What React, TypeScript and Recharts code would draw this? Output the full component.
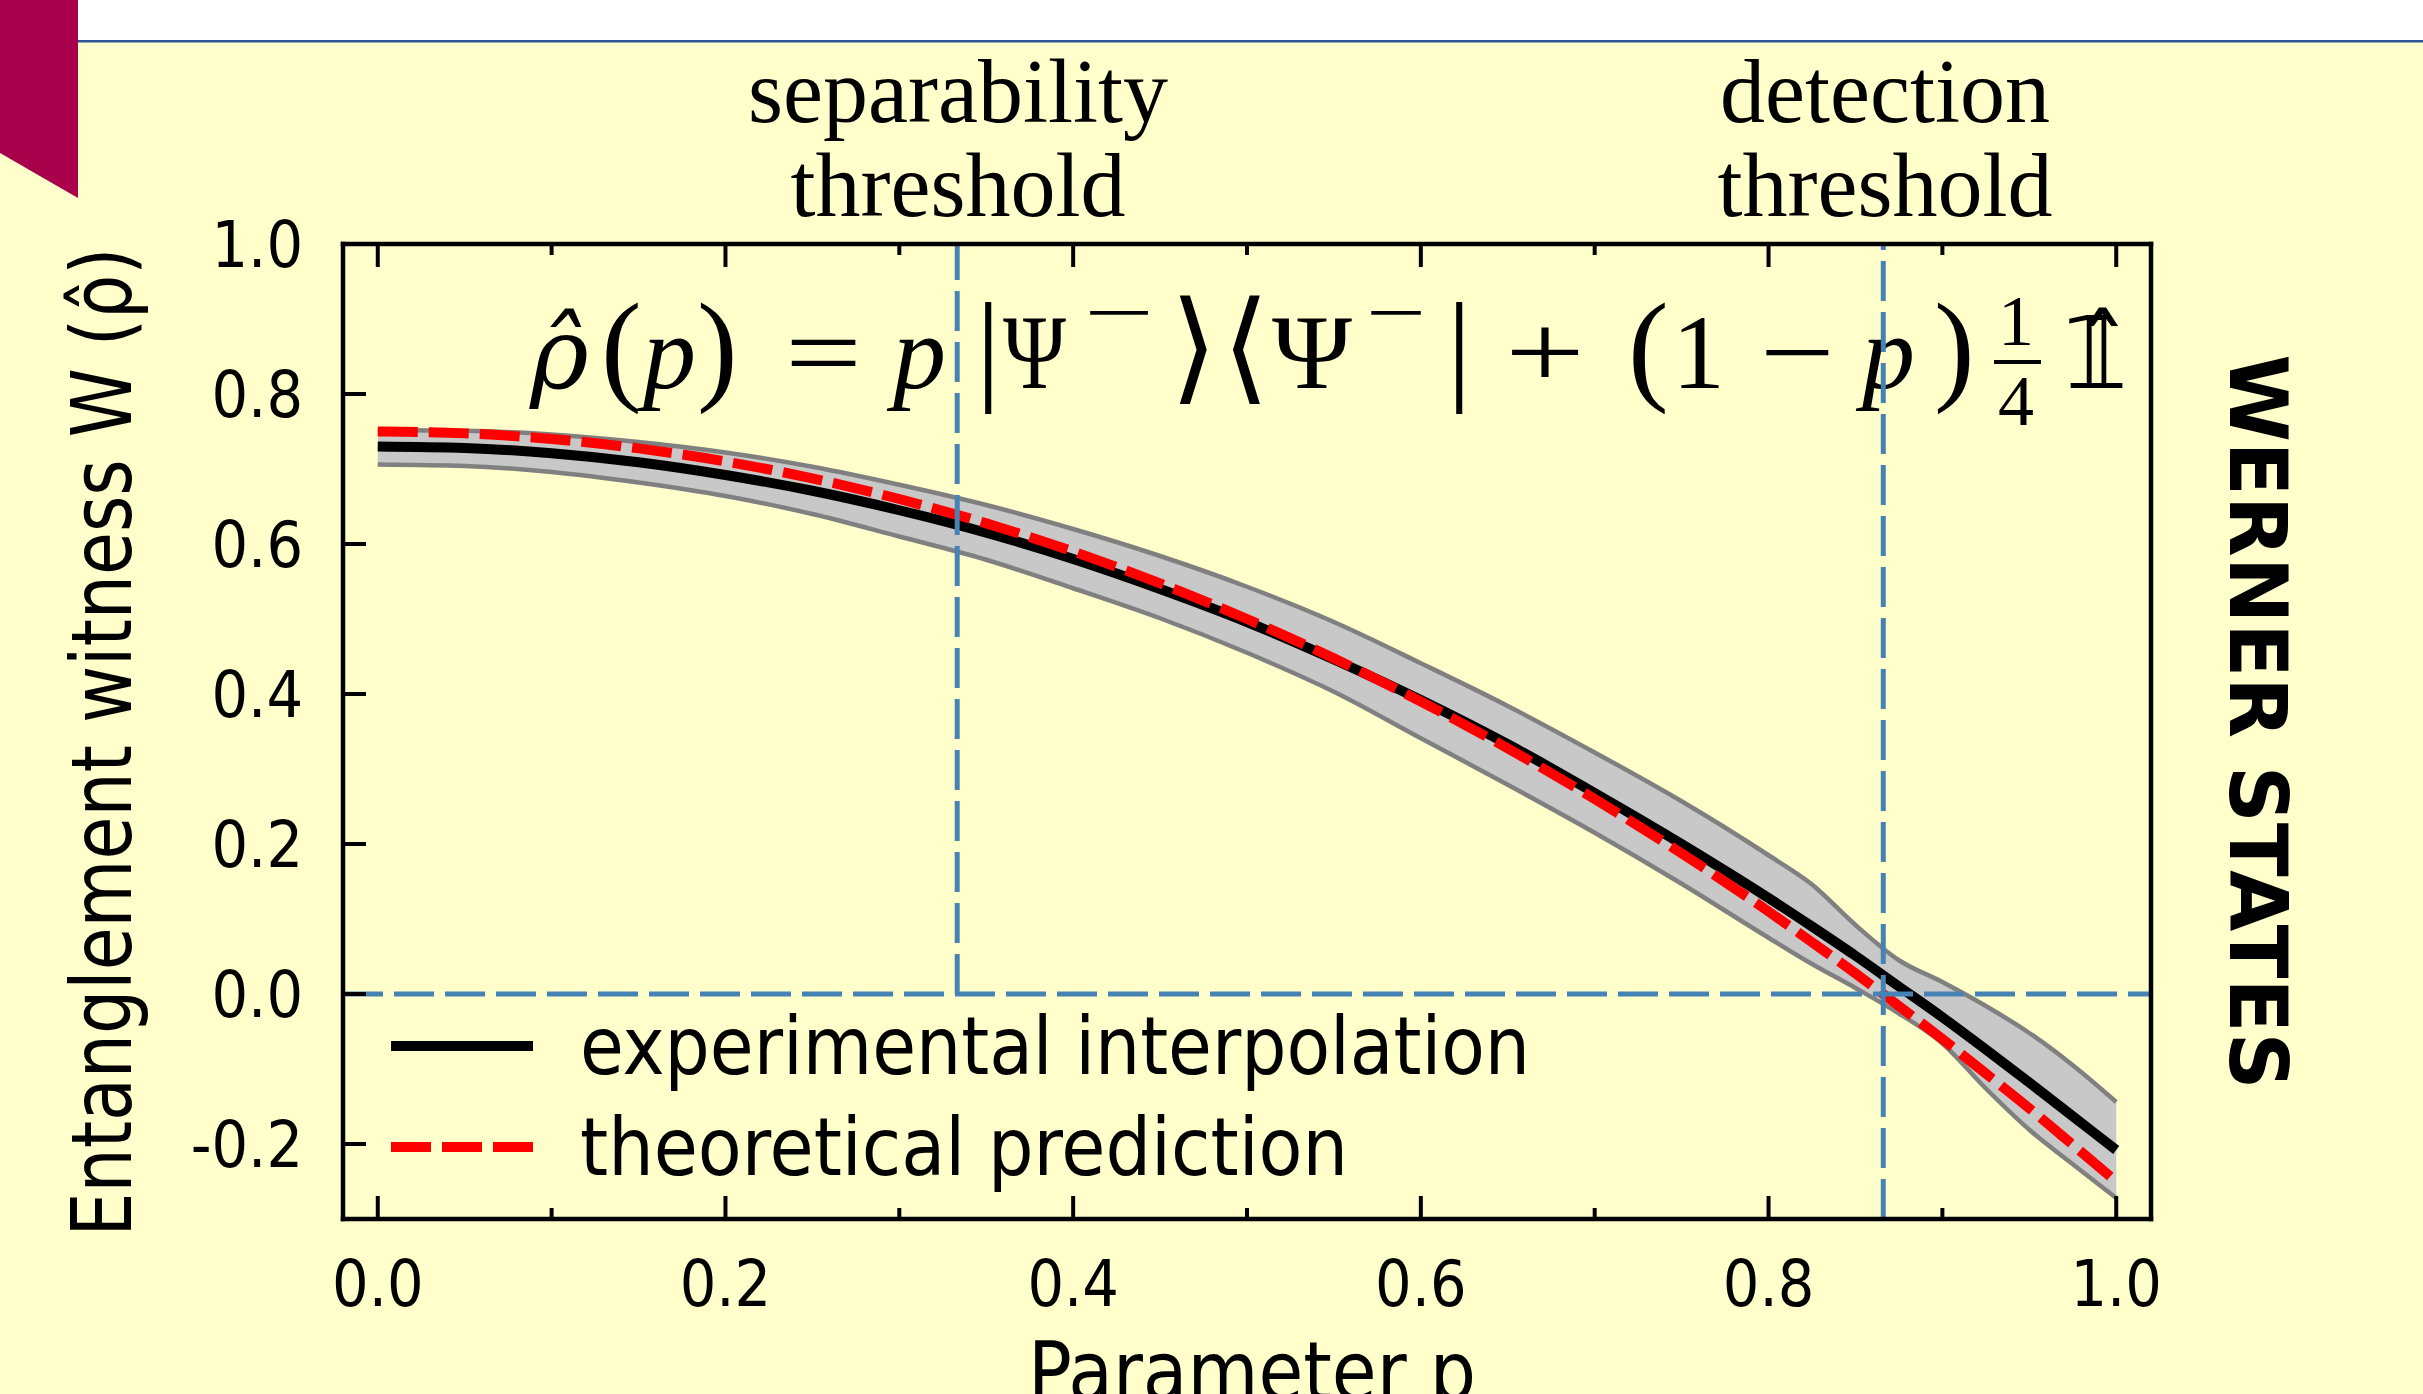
import React from 'react';
import { Area, ComposedChart, Legend, Line, ReferenceLine, XAxis, YAxis } from 'recharts';

// ─────────────────────────────────────────────────────────────
// Data (Werner states, witness vs p)
// ─────────────────────────────────────────────────────────────
const pValues = [
  0, 0.05, 0.1, 0.15, 0.2, 0.25, 0.3, 0.35, 0.4, 0.45, 0.5, 0.55, 0.6, 0.65, 0.7, 0.75,
  0.8, 0.825, 0.85, 0.875, 0.9, 0.925, 0.95, 0.975, 1.0,
];
const experimental = [
  0.73, 0.728, 0.721, 0.709, 0.692, 0.671, 0.645, 0.615, 0.58, 0.54, 0.496, 0.446, 0.392,
  0.333, 0.268, 0.2, 0.128, 0.09, 0.051, 0.01, -0.031, -0.074, -0.118, -0.163, -0.208,
];
const theory = [
  0.75, 0.7475, 0.74, 0.7275, 0.71, 0.6875, 0.66, 0.6275, 0.59, 0.5475, 0.5, 0.4475, 0.39,
  0.3275, 0.26, 0.1875, 0.11, 0.069, 0.0275, -0.016, -0.06, -0.106, -0.1525, -0.201, -0.25,
];
const bandUpper = [
  0.752, 0.751, 0.746, 0.736, 0.722, 0.703, 0.679, 0.652, 0.62, 0.584, 0.543, 0.496, 0.441,
  0.384, 0.322, 0.257, 0.185, 0.146, 0.092, 0.045, 0.016, -0.016, -0.052, -0.095, -0.144,
];
const bandLower = [
  0.706, 0.704, 0.696, 0.682, 0.664, 0.64, 0.61, 0.579, 0.541, 0.501, 0.455, 0.403, 0.341,
  0.279, 0.215, 0.147, 0.075, 0.04, 0.008, -0.026, -0.066, -0.126, -0.181, -0.227, -0.272,
];

const xMajorTicks = [0, 0.2, 0.4, 0.6, 0.8, 1.0];
const xMinorTicks = [0.1, 0.3, 0.5, 0.7, 0.9];
const yMajorTicks = [-0.2, 0, 0.2, 0.4, 0.6, 0.8, 1.0];
const yMinorTicks = [-0.1, 0.1, 0.3, 0.5, 0.7, 0.9];

const separabilityP = 0.3333;
const detectionP = 0.866;

const SERIES_EXP = 'experimental interpolation';
const SERIES_THEORY = 'theoretical prediction';

const rows = pValues.map((p, i) => ({
  p,
  experimental: experimental[i],
  theory: theory[i],
  upper: bandUpper[i],
  lower: bandLower[i],
  band: [bandLower[i], bandUpper[i]],
}));

// ─────────────────────────────────────────────────────────────
// Styles
// ─────────────────────────────────────────────────────────────
const W = 2423;
const H = 1394;
const BG = '#FFFFCC';
const SANS = '"DejaVu Sans Condensed", "DejaVu Sans", sans-serif';
const SERIF = '"Liberation Serif", "DejaVu Serif", serif';
const DJV_SERIF = '"DejaVu Serif", serif';
const BLUE = '#4682B4';
const DASH = '40 11';

const AXIS_LINE = { stroke: '#000', strokeWidth: 4.5, strokeLinecap: 'square' as const };
const TICK_LINE = { stroke: '#000', strokeWidth: 4 };

const fmtTick = (v: number) => v.toFixed(1);

function XTickLabel(props: any) {
  const { x, y, payload } = props;
  return (
    <text x={x} y={y + 87} textAnchor="middle" fontFamily={SANS} fontSize={64} fill="#000">
      {fmtTick(payload.value)}
    </text>
  );
}

function YTickLabel(props: any) {
  const { x, y, payload } = props;
  return (
    <text x={x - 40} y={y + 23} textAnchor="end" fontFamily={SANS} fontSize={64} fill="#000">
      {fmtTick(payload.value)}
    </text>
  );
}

const noLabel = () => <g />;

const LEGEND_DASH: Record<string, string | undefined> = {
  [SERIES_EXP]: undefined,
  [SERIES_THEORY]: DASH,
};
const LEGEND_LEN: Record<string, number> = {
  [SERIES_EXP]: 950,
  [SERIES_THEORY]: 768,
};

function LegendBox(props: any) {
  const items = (props.payload ?? []).filter((it: any) => it.value in LEGEND_LEN);
  return (
    <svg width={1250} height={220} style={{ display: 'block', overflow: 'visible' }}>
      {items.map((it: any, i: number) => {
        const cy = 56 + i * 101;
        return (
          <g key={it.value}>
            <line
              x1={11}
              x2={153}
              y1={cy}
              y2={cy}
              stroke={it.color}
              strokeWidth={10}
              strokeDasharray={LEGEND_DASH[it.value]}
            />
            <text
              x={200}
              y={cy + 28}
              fontFamily={SANS}
              fontSize={80}
              fill="#000"
              textLength={LEGEND_LEN[it.value]}
              lengthAdjust="spacingAndGlyphs"
            >
              {it.value}
            </text>
          </g>
        );
      })}
    </svg>
  );
}

// pieces of the density-matrix formula (LaTeX look)
type Piece = {
  t: string;
  x: number;
  italic?: boolean;
  sup?: boolean;
  len?: number;
  size?: number;
  font?: string;
};
const formulaPieces: Piece[] = [
  { t: 'ρ̂', x: 530, italic: true, size: 100, font: DJV_SERIF },
  { t: '(', x: 601, size: 122 },
  { t: 'p', x: 643, italic: true },
  { t: ')', x: 697, size: 122 },
  { t: '=', x: 785, len: 77 },
  { t: 'p', x: 893, italic: true },
  { t: '|', x: 976, size: 122 },
  { t: 'Ψ', x: 1003, len: 63 },
  { t: '−', x: 1084, sup: true, len: 70 },
  { t: '⟩', x: 1170, size: 122 },
  { t: '⟨', x: 1222, size: 122 },
  { t: 'Ψ', x: 1272, len: 80 },
  { t: '−', x: 1366, sup: true, len: 60 },
  { t: '|', x: 1447, size: 122 },
  { t: '+', x: 1505, len: 80 },
  { t: '(', x: 1628, size: 122 },
  { t: '1', x: 1672 },
  { t: '−', x: 1760, len: 75 },
  { t: 'p', x: 1862, italic: true },
  { t: ')', x: 1934, size: 122 },
  { t: '𝟙̂', x: 2064, size: 100, font: '"DejaVu Sans", sans-serif' },
];

function Overlay() {
  return (
    <svg
      width={W}
      height={H}
      style={{ position: 'absolute', left: 0, top: 0, pointerEvents: 'none' }}
    >
      {/* slide decoration */}
      <rect x={0} y={0} width={W} height={40} fill="#FFFFFF" />
      <rect x={78} y={40} width={W - 78} height={2.5} fill="#2B5797" />
      <polygon points="0,0 78,0 78,198 0,153" fill="#A8004A" />

      {/* threshold annotations */}
      <g fontFamily={SERIF} fontSize={90} fill="#000" textAnchor="middle">
        <text x={958} y={122}>separability</text>
        <text x={958} y={216}>threshold</text>
        <text x={1885} y={122}>detection</text>
        <text x={1885} y={216}>threshold</text>
      </g>

      {/* formula */}
      <g fontFamily={SERIF} fill="#000">
        {formulaPieces.map((f, i) => (
          <text
            key={i}
            x={f.x}
            y={f.sup ? 338 : 388}
            fontSize={f.sup ? 76 : f.size ?? 106}
            fontFamily={f.font}
            fontStyle={f.italic ? 'italic' : 'normal'}
            textLength={f.len}
            lengthAdjust={f.len ? 'spacingAndGlyphs' : undefined}
          >
            {f.t}
          </text>
        ))}
        <text x={1998} y={345} fontSize={72}>1</text>
        <line x1={1994} x2={2041} y1={362} y2={362} stroke="#000" strokeWidth={4} />
        <text x={1998} y={425} fontSize={72}>4</text>
      </g>

      {/* axis titles */}
      <text
        transform="translate(131,742) rotate(-90)"
        textAnchor="middle"
        fontFamily={SANS}
        fontSize={84}
        fill="#000"
        textLength={989}
        lengthAdjust="spacingAndGlyphs"
      >
        Entanglement witness W (ρ̂)
      </text>
      <text
        x={1252}
        y={1400}
        textAnchor="middle"
        fontFamily={SANS}
        fontSize={82}
        fill="#000"
        textLength={448}
        lengthAdjust="spacingAndGlyphs"
      >
        Parameter p
      </text>
      <text
        transform="translate(2230,722) rotate(90)"
        textAnchor="middle"
        fontFamily={SANS}
        fontWeight="bold"
        fontSize={80}
        fill="#000"
        textLength={735}
        lengthAdjust="spacingAndGlyphs"
      >
        WERNER STATES
      </text>
    </svg>
  );
}

export default function App() {
  return (
    <div
      style={{
        position: 'fixed',
        left: 0,
        top: 0,
        width: W,
        height: H,
        background: BG,
        overflow: 'hidden',
      }}
    >
      <Overlay />
      <div style={{ position: 'absolute', left: 0, top: 0 }}>
        <ComposedChart
          width={W}
          height={H}
          data={rows}
          margin={{ top: 242, right: 270, bottom: 173, left: 341 }}
        >
          {/* frame: major axes sit on the plot edges, minor ones stack 1px outside */}
          <XAxis
            xAxisId="x"
            dataKey="p"
            type="number"
            domain={[-0.02, 1.02]}
            ticks={xMajorTicks}
            interval={0}
            height={1}
            tickSize={-23}
            tickMargin={23}
            stroke="#000"
            axisLine={AXIS_LINE}
            tickLine={TICK_LINE}
            tick={<XTickLabel />}
          />
          <XAxis
            xAxisId="xMinor"
            dataKey="p"
            type="number"
            domain={[-0.02, 1.02]}
            ticks={xMinorTicks}
            interval={0}
            height={1}
            tickSize={-12}
            stroke="#000"
            axisLine={false}
            tickLine={TICK_LINE}
            tick={noLabel}
          />
          <XAxis
            xAxisId="xTop"
            orientation="top"
            dataKey="p"
            type="number"
            domain={[-0.02, 1.02]}
            ticks={xMajorTicks}
            interval={0}
            height={1}
            tickSize={-23}
            stroke="#000"
            axisLine={AXIS_LINE}
            tickLine={TICK_LINE}
            tick={noLabel}
          />
          <XAxis
            xAxisId="xTopMinor"
            orientation="top"
            dataKey="p"
            type="number"
            domain={[-0.02, 1.02]}
            ticks={xMinorTicks}
            interval={0}
            height={1}
            tickSize={-12}
            stroke="#000"
            axisLine={false}
            tickLine={TICK_LINE}
            tick={noLabel}
          />
          <YAxis
            yAxisId="y"
            type="number"
            domain={[-0.3, 1.0]}
            ticks={yMajorTicks}
            interval={0}
            width={1}
            tickSize={-23}
            tickMargin={23}
            stroke="#000"
            axisLine={AXIS_LINE}
            tickLine={TICK_LINE}
            tick={<YTickLabel />}
          />
          <YAxis
            yAxisId="yMinor"
            type="number"
            domain={[-0.3, 1.0]}
            ticks={yMinorTicks}
            interval={0}
            width={1}
            tickSize={-12}
            stroke="#000"
            axisLine={false}
            tickLine={TICK_LINE}
            tick={noLabel}
          />
          <YAxis
            yAxisId="yRight"
            orientation="right"
            type="number"
            domain={[-0.3, 1.0]}
            ticks={yMajorTicks}
            interval={0}
            width={1}
            tickSize={-23}
            stroke="#000"
            axisLine={AXIS_LINE}
            tickLine={TICK_LINE}
            tick={noLabel}
          />
          <YAxis
            yAxisId="yRightMinor"
            orientation="right"
            type="number"
            domain={[-0.3, 1.0]}
            ticks={yMinorTicks}
            interval={0}
            width={1}
            tickSize={-12}
            stroke="#000"
            axisLine={false}
            tickLine={TICK_LINE}
            tick={noLabel}
          />

          {/* uncertainty band */}
          <Area
            xAxisId="x"
            yAxisId="y"
            dataKey="band"
            type="monotone"
            fill="#C8C8C8"
            fillOpacity={1}
            stroke="none"
            legendType="none"
            isAnimationActive={false}
          />
          <Line
            xAxisId="x"
            yAxisId="y"
            dataKey="upper"
            type="monotone"
            stroke="#808080"
            strokeWidth={4.5}
            dot={false}
            legendType="none"
            isAnimationActive={false}
          />
          <Line
            xAxisId="x"
            yAxisId="y"
            dataKey="lower"
            type="monotone"
            stroke="#808080"
            strokeWidth={4.5}
            dot={false}
            legendType="none"
            isAnimationActive={false}
          />
          <Line
            xAxisId="x"
            yAxisId="y"
            name={SERIES_EXP}
            dataKey="experimental"
            type="monotone"
            stroke="#000000"
            strokeWidth={10}
            dot={false}
            isAnimationActive={false}
          />
          <Line
            xAxisId="x"
            yAxisId="y"
            name={SERIES_THEORY}
            dataKey="theory"
            type="monotone"
            stroke="#FF0000"
            strokeWidth={10}
            strokeDasharray={DASH}
            dot={false}
            isAnimationActive={false}
          />

          {/* thresholds */}
          <ReferenceLine
            xAxisId="x"
            yAxisId="y"
            y={0}
            stroke={BLUE}
            strokeWidth={5}
            strokeDasharray={DASH}
          />
          <ReferenceLine
            xAxisId="x"
            yAxisId="y"
            segment={[
              { x: separabilityP, y: 0 },
              { x: separabilityP, y: 1.0 },
            ]}
            stroke={BLUE}
            strokeWidth={5}
            strokeDasharray={DASH}
          />
          <ReferenceLine
            xAxisId="x"
            yAxisId="y"
            x={detectionP}
            stroke={BLUE}
            strokeWidth={5}
            strokeDasharray={DASH}
          />

          <Legend
            layout="horizontal"
            align="center"
            verticalAlign="middle"
            content={<LegendBox />}
            wrapperStyle={{ left: 380, top: 990, width: 1250, height: 220 }}
          />
        </ComposedChart>
      </div>
    </div>
  );
}
